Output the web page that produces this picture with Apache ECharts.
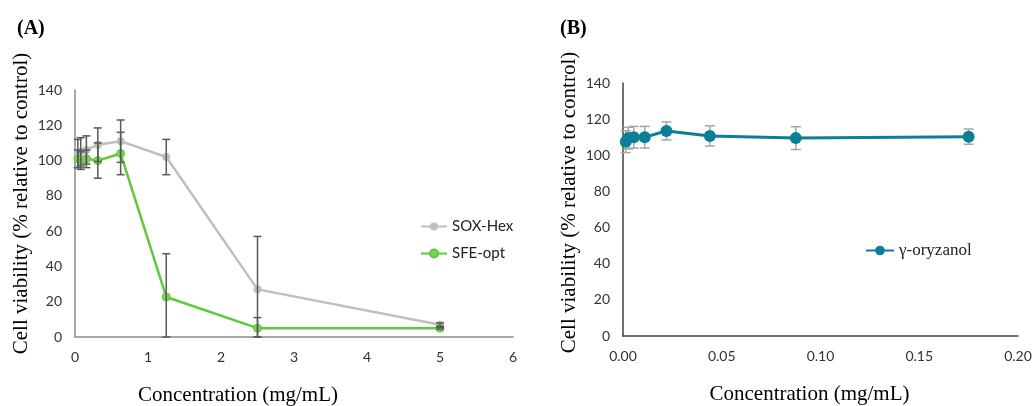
<!DOCTYPE html>
<html>
<head>
<meta charset="utf-8">
<script src="https://cdn.jsdelivr.net/npm/echarts@6/dist/echarts.min.js"></script>
<style>
  html, body { margin: 0; padding: 0; background: #ffffff; }
  #chart { width: 1032px; height: 406px; }
</style>
</head>
<body>
<div id="chart"></div>
<script>
  // panel A: extracts, concentration in mg/mL
  const concA = [0.039, 0.078, 0.156, 0.3125, 0.625, 1.25, 2.5, 5];
  const soxHex = [104, 105, 106, 109, 111, 102, 27, 7];
  const soxHexSd = [8, 8, 8, 9.5, 12, 10, 30, 1];
  const sfeOpt = [101, 100, 101, 100, 104, 22.7, 5, 5];
  const sfeOptSd = [5, 5, 5, 10, 12, 24.5, 6, 0.5];

  // panel B: gamma-oryzanol
  const concB = [0.0014, 0.0027, 0.0055, 0.011, 0.022, 0.044, 0.0875, 0.175];
  const oryzanol = [107.5, 109.5, 110, 110, 113.5, 110.7, 109.5, 110.3];
  const oryzanolSd = [6, 6, 6, 6, 5, 5.6, 6.3, 4.2];

  const tickFont = 'Lato, "Open Sans", sans-serif';
  const serifFont = '"Liberation Serif", "DejaVu Serif", serif';

  function pairs(xs, ys) {
    return xs.map((x, i) => [x, ys[i]]);
  }

  function errData(xs, ys, sd) {
    return xs.map((x, i) => [x, Math.max(0, ys[i] - sd[i]), ys[i] + sd[i]]);
  }

  function errorSeries(idx, data, color, cap, z) {
    return {
      type: 'custom',
      xAxisIndex: idx,
      yAxisIndex: idx,
      z: z,
      silent: true,
      data: data,
      encode: { x: 0, y: [1, 2] },
      renderItem: function (params, api) {
        const lo = api.coord([api.value(0), api.value(1)]);
        const hi = api.coord([api.value(0), api.value(2)]);
        const st = { stroke: color, lineWidth: 1.5 };
        return {
          type: 'group',
          children: [
            { type: 'line', shape: { x1: lo[0], y1: lo[1], x2: hi[0], y2: hi[1] }, style: st },
            { type: 'line', shape: { x1: hi[0] - cap, y1: hi[1], x2: hi[0] + cap, y2: hi[1] }, style: st },
            { type: 'line', shape: { x1: lo[0] - cap, y1: lo[1], x2: lo[0] + cap, y2: lo[1] }, style: st }
          ]
        };
      }
    };
  }

  let myChart = echarts.init(document.getElementById('chart'));

  myChart.setOption({
    animation: false,
    title: [
      { text: '(A)', left: 12, top: 14, textStyle: { fontFamily: serifFont, fontWeight: 'bold', fontSize: 20, color: '#000' } },
      { text: '(B)', left: 555, top: 14, textStyle: { fontFamily: serifFont, fontWeight: 'bold', fontSize: 20, color: '#000' } }
    ],
    legend: [
      {
        data: ['SOX-Hex', 'SFE-opt'],
        orient: 'vertical',
        left: 415,
        top: 214,
        itemGap: 12,
        itemWidth: 26,
        itemHeight: 10,
        textStyle: { fontFamily: tickFont, fontSize: 15, color: '#222' }
      },
      {
        data: ['γ-oryzanol'],
        left: 860,
        top: 237,
        itemWidth: 28,
        itemHeight: 12,
        textStyle: { fontFamily: serifFont, fontSize: 17, color: '#222' }
      }
    ],
    grid: [
      { left: 75, right: 519, top: 90, bottom: 69, outerBoundsMode: 'none', containLabel: false },
      { left: 623, right: 14, top: 83, bottom: 70, outerBoundsMode: 'none', containLabel: false }
    ],
    xAxis: [
      {
        gridIndex: 0, type: 'value', min: 0, max: 6, interval: 1,
        name: 'Concentration (mg/mL)', nameLocation: 'middle', nameGap: 48,
        nameTextStyle: { fontFamily: serifFont, fontSize: 21, color: '#000', padding: [0, 112, 0, 0] },
        axisLine: { lineStyle: { color: '#8c8c8c', width: 1.5 } },
        axisTick: { show: false },
        splitLine: { show: false },
        axisLabel: { fontFamily: tickFont, fontSize: 14, color: '#333', margin: 13 }
      },
      {
        gridIndex: 1, type: 'value', min: 0, max: 0.2, interval: 0.05,
        name: 'Concentration (mg/mL)', nameLocation: 'middle', nameGap: 48,
        nameTextStyle: { fontFamily: serifFont, fontSize: 21, color: '#000', padding: [0, 22, 0, 0] },
        axisLine: { lineStyle: { color: '#404040', width: 1.5 } },
        axisTick: { show: false },
        splitLine: { show: false },
        axisLabel: { fontFamily: tickFont, fontSize: 14, color: '#333', margin: 13,
          formatter: function (v) { return v.toFixed(2); } }
      }
    ],
    yAxis: [
      {
        gridIndex: 0, type: 'value', min: 0, max: 140, interval: 20,
        name: 'Cell viability (% relative to control)', nameLocation: 'middle', nameGap: 43,
        nameTextStyle: { fontFamily: serifFont, fontSize: 21, color: '#000', padding: [0, 0, 0, 20] },
        axisLine: { show: true, lineStyle: { color: '#8c8c8c', width: 1.5 } },
        axisTick: { show: false },
        splitLine: { show: false },
        axisLabel: { fontFamily: tickFont, fontSize: 14, color: '#333', margin: 13 }
      },
      {
        gridIndex: 1, type: 'value', min: 0, max: 140, interval: 20,
        name: 'Cell viability (% relative to control)', nameLocation: 'middle', nameGap: 43,
        nameTextStyle: { fontFamily: serifFont, fontSize: 21, color: '#000', padding: [0, 0, 0, 14] },
        axisLine: { show: true, lineStyle: { color: '#404040', width: 1.5 } },
        axisTick: { show: false },
        splitLine: { show: false },
        axisLabel: { fontFamily: tickFont, fontSize: 14, color: '#333', margin: 13 }
      }
    ],
    series: [
      {
        name: 'SOX-Hex', type: 'line', xAxisIndex: 0, yAxisIndex: 0, z: 2,
        data: pairs(concA, soxHex),
        symbol: 'circle', symbolSize: 8,
        lineStyle: { color: '#bfbfbf', width: 2.5 },
        itemStyle: { color: '#bfbfbf' }
      },
      {
        name: 'SFE-opt', type: 'line', xAxisIndex: 0, yAxisIndex: 0, z: 3,
        data: pairs(concA, sfeOpt),
        symbol: 'circle', symbolSize: 8,
        lineStyle: { color: '#5dca3a', width: 2.5 },
        itemStyle: { color: '#7ad35a', borderColor: '#5dca3a', borderWidth: 1 }
      },
      errorSeries(0, errData(concA, soxHex, soxHexSd), '#595959', 4, 4),
      errorSeries(0, errData(concA, sfeOpt, sfeOptSd), '#595959', 4, 4),
      errorSeries(1, errData(concB, oryzanol, oryzanolSd), '#a6a6a6', 5, 1),
      {
        name: 'γ-oryzanol', type: 'line', xAxisIndex: 1, yAxisIndex: 1, z: 3,
        data: pairs(concB, oryzanol),
        symbol: 'circle', symbolSize: 12,
        lineStyle: { color: '#0b7f95', width: 3 },
        itemStyle: { color: '#0b7f95' }
      }
    ]
  });
</script>
</body>
</html>
